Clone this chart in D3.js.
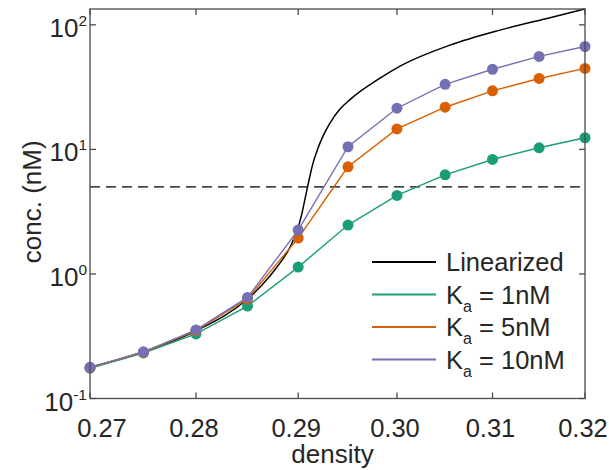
<!DOCTYPE html>
<html>
<head>
<meta charset="utf-8">
<script src="https://cdn.jsdelivr.net/npm/d3@7"></script>
<style>
  body { margin: 0; background: #fff; }
  text { font-family: "Liberation Sans", Arial, Helvetica, sans-serif; fill: #262626; }
</style>
</head>
<body>
<svg id="chart" width="609" height="470"></svg>
<script>
// Sampled densities for the three binding constants
const density = [0.27, 0.275, 0.28, 0.285, 0.29, 0.295, 0.30, 0.305, 0.31, 0.315, 0.32];
// Concentration (nM) for each Ka
const concKa1  = [0.175, 0.232, 0.330, 0.552, 1.135, 2.47, 4.27, 6.25, 8.3, 10.3, 12.4];
const concKa5  = [0.177, 0.235, 0.350, 0.630, 1.94, 7.25, 14.6, 21.8, 29.5, 37.1, 44.7];
const concKa10 = [0.178, 0.237, 0.355, 0.648, 2.25, 10.5, 21.4, 33.3, 44.0, 55.8, 67.0];
// Linearized model curve
const linDensity = [0.27, 0.275, 0.28, 0.285, 0.28642, 0.28790, 0.28919, 0.28988, 0.29038, 0.29078,
                    0.29108, 0.29148, 0.29198, 0.29248, 0.29318, 0.29419, 0.29520, 0.29826, 0.30032,
                    0.30551, 0.31080, 0.31618, 0.32];
const linConc    = [0.178, 0.237, 0.350, 0.63, 0.8145, 1.136, 1.644, 2.21, 3.08, 4.38,
                    5.67, 7.76, 10.24, 12.79, 16.26, 21.06, 25.1, 37.3, 46.6,
                    68.7, 90.7, 114.2, 134.0];
// Threshold concentration (dashed)
const threshold = 5;

const seriesNames = ["Linearized", "1nM", "5nM", "10nM"];
const seriesColors = ["#000000", "#1b9e77", "#d95f02", "#7570b3"];

const xTicks = [0.27, 0.28, 0.29, 0.30, 0.31, 0.32];
const xTickLabels = ["0.27", "0.28", "0.29", "0.30", "0.31", "0.32"];
const yTicks = [0.1, 1, 10, 100];
const yTickExps = ["-1", "0", "1", "2"];

const svg = d3.select("#chart");
const plotLeft = 90, plotRight = 585, plotTop = 9, plotBottom = 398.5;

const x = d3.scaleLog().domain([0.27, 0.32]).range([plotLeft, plotRight]);
const y = d3.scaleLog().domain([0.1, 134]).range([plotBottom, plotTop]);

const axisColor = "#4a4a4a";

// Dashed threshold line
svg.append("line")
  .attr("x1", x(0.27)).attr("x2", x(0.32))
  .attr("y1", y(threshold)).attr("y2", y(threshold))
  .attr("stroke", "#000").attr("stroke-width", 1.3)
  .attr("stroke-dasharray", "10,6");

// Linearized curve
const lineGen = d3.line().curve(d3.curveMonotoneX);
svg.append("path")
  .attr("d", lineGen(linDensity.map((d, i) => [x(d), y(linConc[i])])))
  .attr("fill", "none").attr("stroke", seriesColors[0]).attr("stroke-width", 1.5);

// Ka series with markers
[concKa1, concKa5, concKa10].forEach((vals, k) => {
  const col = seriesColors[k + 1];
  const pts = density.map((d, i) => [x(d), y(vals[i])]);
  svg.append("path")
    .attr("d", d3.line()(pts))
    .attr("fill", "none").attr("stroke", col).attr("stroke-width", 1.4);
  svg.append("g").selectAll("circle").data(pts).join("circle")
    .attr("cx", p => p[0]).attr("cy", p => p[1]).attr("r", 5.5)
    .attr("fill", col);
});

// Axes box
svg.append("rect")
  .attr("x", plotLeft).attr("y", plotTop)
  .attr("width", plotRight - plotLeft).attr("height", plotBottom - plotTop)
  .attr("fill", "none").attr("stroke", axisColor).attr("stroke-width", 1.3);

// Ticks (inward, on all four sides)
const tickLen = 6;
xTicks.forEach(t => {
  const xp = x(t);
  svg.append("line").attr("x1", xp).attr("x2", xp).attr("y1", plotBottom).attr("y2", plotBottom - tickLen)
    .attr("stroke", axisColor).attr("stroke-width", 1.3);
  svg.append("line").attr("x1", xp).attr("x2", xp).attr("y1", plotTop).attr("y2", plotTop + tickLen)
    .attr("stroke", axisColor).attr("stroke-width", 1.3);
});
yTicks.forEach(t => {
  const yp = y(t);
  svg.append("line").attr("x1", plotLeft).attr("x2", plotLeft + tickLen).attr("y1", yp).attr("y2", yp)
    .attr("stroke", axisColor).attr("stroke-width", 1.3);
  svg.append("line").attr("x1", plotRight).attr("x2", plotRight - tickLen).attr("y1", yp).attr("y2", yp)
    .attr("stroke", axisColor).attr("stroke-width", 1.3);
});

// X tick labels
xTicks.forEach((t, i) => {
  svg.append("text")
    .attr("x", x(t) + (i === 0 ? 12 : -2)).attr("y", plotBottom + 38)
    .attr("text-anchor", "middle").attr("font-size", 25.5)
    .text(xTickLabels[i]);
});

// Y tick labels (10 with superscript exponent)
yTicks.forEach((t, i) => {
  const txt = svg.append("text")
    .attr("x", plotLeft - 3).attr("y", y(t) + 12)
    .attr("text-anchor", "end").attr("font-size", 26);
  txt.append("tspan").text("10");
  txt.append("tspan").attr("font-size", 15.5).attr("dy", -11).text(yTickExps[i]);
});

// Axis labels
svg.append("text")
  .attr("x", (plotLeft + plotRight) / 2 - 5).attr("y", 463)
  .attr("text-anchor", "middle").attr("font-size", 26)
  .text("density");
svg.append("text")
  .attr("transform", `translate(41,${(plotTop + plotBottom) / 2 - 2}) rotate(-90)`)
  .attr("text-anchor", "middle").attr("font-size", 26)
  .text("conc. (nM)");

// Legend
const legX = 372, legY = 262, legStep = 32.5;
seriesNames.forEach((name, i) => {
  const yy = legY + i * legStep;
  svg.append("line").attr("x1", legX).attr("x2", legX + 64).attr("y1", yy).attr("y2", yy)
    .attr("stroke", seriesColors[i]).attr("stroke-width", 2);
  const t = svg.append("text").attr("x", legX + 74).attr("y", yy + 9).attr("font-size", 25.5);
  if (i === 0) {
    t.text(name);
  } else {
    t.append("tspan").text("K");
    t.append("tspan").attr("font-size", 16).attr("dy", 8).text("a");
    t.append("tspan").attr("dy", -8).text(" = " + name);
  }
});
</script>
</body>
</html>
